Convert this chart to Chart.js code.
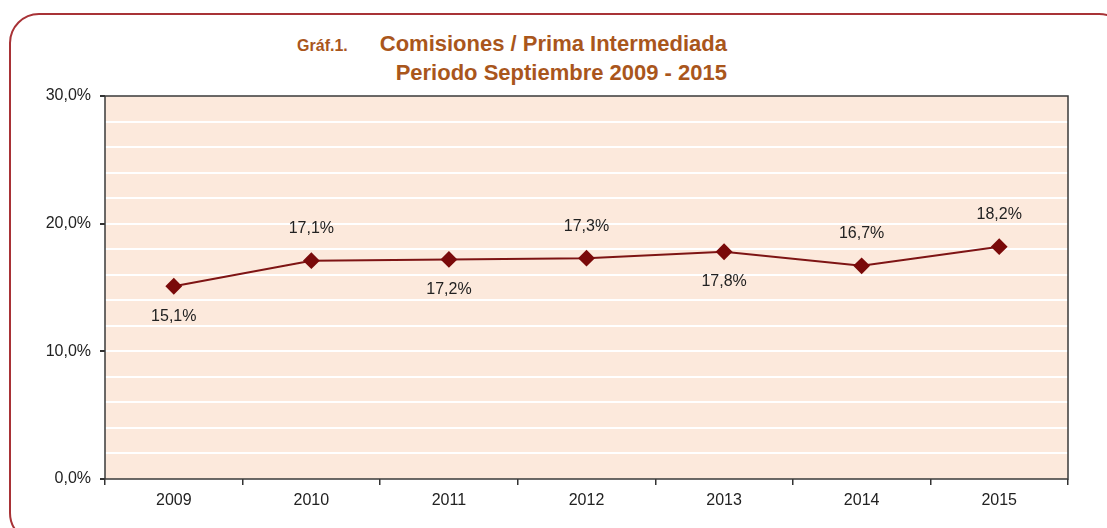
<!DOCTYPE html>
<html>
<head>
<meta charset="utf-8">
<script src="https://cdn.jsdelivr.net/npm/chart.js@4.4.0/dist/chart.umd.min.js"></script>
<style>
  html, body { margin: 0; padding: 0; background: #fff; }
  body { width: 1107px; height: 528px; position: relative; overflow: hidden; }
  .frame {
    position: absolute; left: 9px; top: 13px; width: 1120px; height: 530px;
    border: 2px solid #A83236; border-radius: 30px; box-sizing: border-box;
  }
  .title {
    position: absolute; top: 30px; right: 380px; text-align: right;
    font-family: "Liberation Sans", Arial, sans-serif;
    font-weight: bold; color: #A9561C; line-height: 27px; font-size: 22px;
  }
  .title small { font-size: 16px; margin-right: 32px; }
  #wrap { position: absolute; left: 0; top: 0; width: 1107px; height: 528px; }
</style>
</head>
<body>
<div class="frame"></div>
<div class="title"><small>Gráf.1.</small>Comisiones / Prima Intermediada<br>Periodo Septiembre 2009 - 2015</div>
<div id="wrap"><canvas id="chart" width="1107" height="528"></canvas></div>
<script>
const years = ['2009', '2010', '2011', '2012', '2013', '2014', '2015'];
const ratio = [15.1, 17.1, 17.2, 17.3, 17.8, 16.7, 18.2];
const labelAbove = [false, true, false, true, false, true, true];
const yTicks = [0, 10, 20, 30];

const fmt = v => v.toFixed(1).replace('.', ',') + '%';
const FONT = '"Liberation Sans", Arial, sans-serif';

const plotBox = {
  id: 'plotBox',
  beforeDraw(chart) {
    const a = chart.chartArea, ctx = chart.ctx;
    ctx.save();
    ctx.fillStyle = '#FCE9DC';
    ctx.fillRect(a.left, a.top, a.right - a.left, a.bottom - a.top);
    ctx.restore();
  },
  afterDatasetsDraw(chart) {
    const a = chart.chartArea, ctx = chart.ctx;
    ctx.save();
    ctx.strokeStyle = '#3a3a3a';
    ctx.lineWidth = 1.5;
    ctx.strokeRect(a.left, a.top, a.right - a.left, a.bottom - a.top);
    // value labels
    const meta = chart.getDatasetMeta(0);
    ctx.font = '16px ' + FONT;
    ctx.fillStyle = '#222';
    ctx.textAlign = 'center';
    ctx.textBaseline = 'middle';
    meta.data.forEach((pt, i) => {
      const dy = labelAbove[i] ? -32 : 30;
      ctx.fillText(fmt(ratio[i]), pt.x, pt.y + dy);
    });
    ctx.restore();
  }
};

new Chart(document.getElementById('chart'), {
  type: 'line',
  data: {
    labels: years,
    datasets: [{
      data: ratio,
      borderColor: '#7E1414',
      borderWidth: 2,
      pointStyle: 'rectRot',
      pointRadius: 7,
      pointBackgroundColor: '#7A0A0A',
      pointBorderColor: '#7A0A0A',
      tension: 0
    }]
  },
  options: {
    responsive: false,
    animation: false,
    layout: { padding: { top: 96, right: 39, left: 0, bottom: 0 } },
    plugins: { legend: { display: false }, tooltip: { enabled: false }, title: { display: false } },
    scales: {
      x: {
        offset: true,
        grid: { offset: true, drawOnChartArea: false, tickColor: '#333', tickLength: 6, lineWidth: 1.5 },
        border: { display: false },
        ticks: { color: '#222', font: { size: 16, family: FONT }, padding: 6 },
        afterFit(scale) { scale.height = 49; }
      },
      y: {
        min: 0, max: 30,
        border: { display: false },
        ticks: {
          stepSize: 2,
          autoSkip: false,
          color: '#222',
          padding: 9,
          font: { size: 16, family: FONT },
          callback: v => (yTicks.includes(v) ? fmt(v) : '')
        },
        grid: {
          color: c => (c.tick && (c.tick.value === 0 || c.tick.value === 30) ? 'rgba(0,0,0,0)' : '#ffffff'),
          lineWidth: 2,
          tickColor: c => (c.tick && yTicks.includes(c.tick.value) ? '#333' : 'rgba(0,0,0,0)'),
          tickLength: 5
        },
        afterFit(scale) { scale.width = 105; }
      }
    }
  },
  plugins: [plotBox]
});
</script>
</body>
</html>
